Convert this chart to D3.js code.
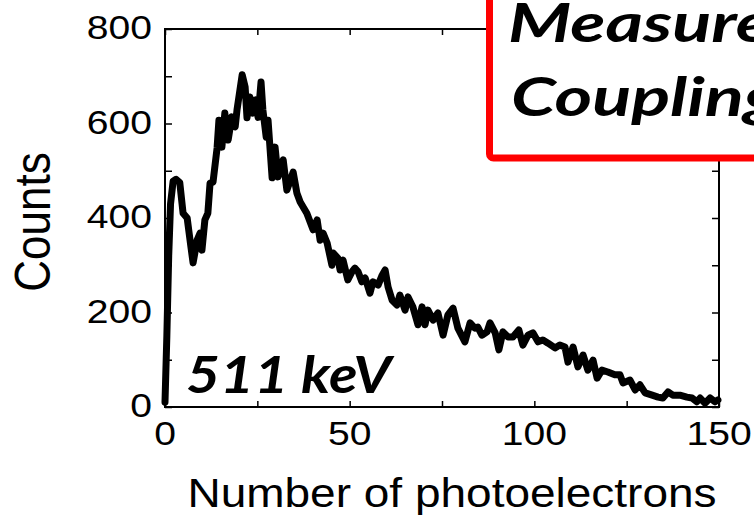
<!DOCTYPE html>
<html>
<head>
<meta charset="utf-8">
<script src="https://cdn.jsdelivr.net/npm/d3@7"></script>
<style>
  html, body { margin: 0; padding: 0; background: #fff; overflow: hidden; }
  svg { display: block; }
</style>
</head>
<body>
<svg id="chart" width="754" height="518"></svg>
<script>
// Pulse-height spectrum for a 511 keV source, binned by photoelectron number
const photoelectrons = [
  0, 0.5, 1.0, 1.5, 2.2, 3.0, 4.0, 4.9, 6.0, 7.0, 7.6, 8.7, 9.5, 10.0, 10.8, 11.6,
  12.2, 13.0, 14.1, 14.6, 15.4, 16.2, 17.1, 18.1, 19.0, 19.5, 20.9, 21.7, 22.2, 23.0,
  23.8, 24.6, 25.2, 26.0, 26.5, 27.4, 27.9, 29.0, 29.8, 30.6, 32.0, 33.0, 34.7, 35.7,
  36.6, 38.4, 40.1, 41.2, 42.0, 42.8, 43.9, 45.2, 45.5, 46.8, 47.4, 48.2, 49.5, 50.6,
  51.4, 52.3, 53.3, 54.2, 55.5, 56.3, 57.7, 58.8, 59.6, 60.4, 61.5, 62.8, 63.6, 65.0,
  65.8, 67.1, 68.5, 69.6, 70.4, 71.2, 72.6, 73.9, 75.3, 76.6, 78.0, 79.3, 81.2, 82.6,
  83.9, 84.7, 85.8, 87.2, 88.0, 89.4, 90.4, 91.5, 92.9, 94.2, 95.8, 96.9, 98.3, 99.6,
  101.0, 102.3, 103.7, 105.6, 106.9, 108.3, 109.1, 110.5, 111.8, 113.2, 114.5, 115.9,
  117.0, 118.3, 119.9, 121.8, 123.2, 124.0, 125.9, 127.3, 128.6, 130.0, 131.9, 133.5,
  134.8, 136.2, 137.5, 139.4, 141.3, 142.7, 144.0, 144.9, 146.2, 147.6, 148.9, 149.7
];
const counts = [
  10, 150, 320, 430, 478, 482, 475, 410, 400, 340, 305, 353, 368, 332, 396, 410,
  474, 476, 548, 607, 550, 622, 565, 614, 593, 629, 703, 677, 612, 656,
  622, 650, 613, 688, 629, 571, 607, 485, 550, 487, 523, 459, 497, 453,
  434, 410, 375, 396, 353, 368, 347, 300, 326, 315, 290, 311, 269, 286,
  294, 286, 265, 273, 241, 265, 258, 279, 290, 254, 226, 216, 237, 205,
  233, 212, 174, 212, 174, 205, 184, 199, 152, 195, 209, 167, 138, 178,
  167, 169, 152, 159, 178, 157, 121, 159, 148, 148, 163, 131, 152, 157,
  138, 142, 135, 125, 131, 127, 95, 127, 85, 110, 78, 99,
  61, 78, 74, 68, 68, 51, 57, 36, 47, 30, 25, 21,
  19, 32, 25, 25, 21, 19, 11, 19, 8, 19, 11, 15
];

const xTickValues = [0, 25, 50, 75, 100, 125, 150];
const xTickLabels = [0, 50, 100, 150];
const yTickValues = [0, 100, 200, 300, 400, 500, 600, 700, 800];
const yTickLabels = [0, 200, 400, 600, 800];
const xTitle = "Number of photoelectrons";
const yTitle = "Counts";
const energyLabel = "511 keV";
const noteLines = ["Measured", "Coupling"];

const svg = d3.select("#chart");
const plot = { left: 165, right: 719, top: 29, bottom: 407 };
const stretch = 1.15; // glyphs are drawn a little wider than tall

const x = d3.scaleLinear().domain([0, 150]).range([plot.left, plot.right]);
const y = d3.scaleLinear().domain([0, 800]).range([plot.bottom, plot.top]);

const axisFont = "Liberation Sans, Arial, Helvetica, sans-serif";
const noteFont = "Lato, 'Noto Sans', sans-serif";

// Inward-pointing ticks on all four sides
function tickAxis(axis, tx, ty) {
  const g = svg.append("g").attr("transform", `translate(${tx},${ty})`).call(axis);
  g.select(".domain").remove();
  g.selectAll(".tick line").attr("stroke", "#000").attr("stroke-width", 1.5);
  return g;
}
tickAxis(d3.axisBottom(x).tickValues(xTickValues).tickSize(-6).tickFormat(""), 0, plot.bottom);
tickAxis(d3.axisTop(x).tickValues(xTickValues).tickSize(-6).tickFormat(""), 0, plot.top);
tickAxis(d3.axisLeft(y).tickValues(yTickValues).tickSize(-7).tickFormat(""), plot.left, 0);
tickAxis(d3.axisRight(y).tickValues(yTickValues).tickSize(-7).tickFormat(""), plot.right, 0);

svg.append("rect")
  .attr("x", plot.left).attr("y", plot.top)
  .attr("width", plot.right - plot.left).attr("height", plot.bottom - plot.top)
  .attr("fill", "none").attr("stroke", "#000").attr("stroke-width", 2);

// Tick labels
svg.append("g").selectAll("text").data(xTickLabels).join("text")
  .attr("transform", d => `translate(${x(d)},445) scale(${stretch},1)`)
  .attr("text-anchor", "middle")
  .attr("font-family", axisFont).attr("font-size", 34)
  .text(d => d);

svg.append("g").selectAll("text").data(yTickLabels).join("text")
  .attr("transform", d => `translate(152,${y(d) + 10}) scale(${stretch},1)`)
  .attr("text-anchor", "end")
  .attr("font-family", axisFont).attr("font-size", 34)
  .text(d => d);

// Axis titles
svg.append("text")
  .attr("transform", `translate(452,507) scale(${stretch},1)`)
  .attr("text-anchor", "middle")
  .attr("font-family", axisFont).attr("font-size", 40)
  .text(xTitle);

svg.append("text")
  .attr("transform", `translate(50,222) scale(${stretch},1) rotate(-90)`)
  .attr("text-anchor", "middle")
  .attr("font-family", axisFont).attr("font-size", 44)
  .text(yTitle);

// Spectrum
const line = d3.line()
  .x((d, i) => x(photoelectrons[i]))
  .y(d => y(d));

svg.append("path")
  .datum(counts)
  .attr("d", line)
  .attr("fill", "none")
  .attr("stroke", "#000")
  .attr("stroke-width", 7)
  .attr("stroke-linejoin", "round")
  .attr("stroke-linecap", "round");

// Source energy
svg.append("text")
  .attr("transform", `translate(186,393) scale(1.13,1)`)
  .attr("font-family", noteFont).attr("font-size", 52)
  .attr("font-weight", "bold").attr("font-style", "italic")
  .text(energyLabel);

// Framed note in the upper right
svg.append("rect")
  .attr("x", 489.5).attr("y", -20)
  .attr("width", 320).attr("height", 178)
  .attr("rx", 4)
  .attr("fill", "#fff")
  .attr("stroke", "#ff0000").attr("stroke-width", 7);

svg.append("g").selectAll("text").data(noteLines).join("text")
  .attr("transform", (d, i) => `translate(${508 + i * 3},${42 + i * 74}) scale(1.36,1)`)
  .attr("font-family", noteFont).attr("font-size", 53)
  .attr("font-weight", "bold").attr("font-style", "italic")
  .text(d => d);
</script>
</body>
</html>
